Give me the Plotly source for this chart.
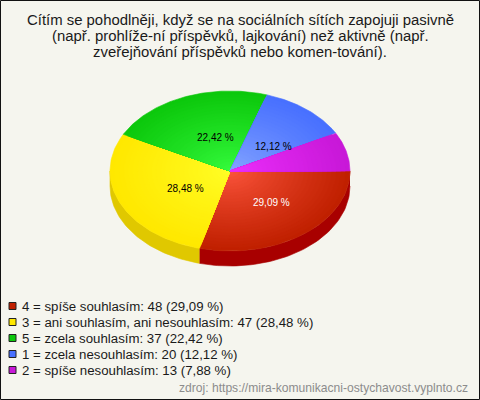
import numpy as np
import plotly.graph_objects as go

title_lines = ["Cítím se pohodlněji, když se na sociálních sítích zapojuji pasivně",
               "(např. prohlíže-ní příspěvků, lajkování) než aktivně (např.",
               "zveřejňování příspěvků nebo komen-tování)."]
labels = ["4 = spíše souhlasím", "3 = ani souhlasím, ani nesouhlasím", "5 = zcela souhlasím",
          "1 = zcela nesouhlasím", "2 = spíše nesouhlasím"]
values = [48, 47, 37, 20, 13]
pct_labels = ["29,09 %", "28,48 %", "22,42 %", "12,12 %", "7,88 %"]
show_label = [True, True, True, True, False]
label_colors = ["#ffffff", "#000000", "#000000", "#000000", "#000000"]
edge_colors = [(192, 32, 0), (255, 232, 0), (12, 200, 12), (72, 112, 255), (200, 24, 216)]
center_colors = [(255, 88, 64), (255, 255, 40), (56, 255, 64), (136, 168, 255), (240, 48, 255)]
side_colors = ["#a80000", "#e0c800", "#0a9a0a", "#3858c8", "#a010a8"]
source = "zdroj: https://mira-komunikacni-ostychavost.vyplnto.cz"
BG = "#f5f5ee"
FONT = "Liberation Sans, Arial, sans-serif"

CX, CY, RX, RY, DEPTH = 230, 171, 120, 80, 15
LEG_Y0, LEG_DY = 306, 16
LABEL_OFFSETS = [(41, 31), (-45, 17), (-15, -34), (43, -25), (0, 0)]

fracs = np.array(values) / sum(values)
edges = np.concatenate([[0], np.cumsum(fracs)]) * 2 * np.pi
fig = go.Figure()

def add_poly(x, y, color):
    fig.add_trace(go.Scatter(x=x, y=y, mode="lines", fill="toself", fillcolor=color,
                             line=dict(width=0.6, color=color), hoverinfo="skip", showlegend=False))

# side wall
for i in range(len(values)):
    a, b = edges[i], min(edges[i + 1], np.pi)
    if a >= np.pi:
        continue
    t = np.linspace(a, b, 60)
    x = CX + RX * np.cos(t)
    y = CY + RY * np.sin(t)
    add_poly(np.r_[x, x[::-1]], np.r_[y, (y + DEPTH)[::-1]], side_colors[i])

# top with radial shading, drawn as nested sectors
N = 26
for i in range(len(values)):
    t = np.linspace(edges[i], edges[i + 1], 90)
    for k in range(N):
        s = 1 - k / N
        m = s ** 0.8
        c = [int(round(center_colors[i][j] + (edge_colors[i][j] - center_colors[i][j]) * m)) for j in range(3)]
        col = f"rgb({c[0]},{c[1]},{c[2]})"
        add_poly(np.r_[CX, CX + s * RX * np.cos(t), CX], np.r_[CY, CY + s * RY * np.sin(t), CY], col)

# slice labels
for i in range(len(values)):
    if show_label[i]:
        fig.add_annotation(x=CX + LABEL_OFFSETS[i][0], y=CY + LABEL_OFFSETS[i][1],
                           text=pct_labels[i], showarrow=False,
                           font=dict(family=FONT, size=10, color=label_colors[i]))

# title
for n, line in enumerate(title_lines):
    fig.add_annotation(x=240, y=20 + n * 16, text=line, showarrow=False,
                       font=dict(family=FONT, size=14.9, color="#1a1a1a"))

# legend
for i in range(len(values)):
    y = LEG_Y0 + i * LEG_DY
    fig.add_trace(go.Scatter(x=[12.5], y=[y], mode="markers", hoverinfo="skip", showlegend=False,
                             marker=dict(symbol="square", size=7,
                                         color="rgb(%d,%d,%d)" % edge_colors[i],
                                         line=dict(width=1, color="#222222"))))
    fig.add_annotation(x=20, y=y, xanchor="left", showarrow=False,
                       text=f"{labels[i]}: {values[i]} ({pct_labels[i]})",
                       font=dict(family=FONT, size=13.25, color="#1a1a1a"))

fig.add_annotation(x=470, y=388, xanchor="right", showarrow=False, text=source,
                   font=dict(family=FONT, size=12.1, color="#8c8c8c"))

fig.update_layout(width=480, height=400, margin=dict(l=0, r=0, t=0, b=0),
                  paper_bgcolor=BG, plot_bgcolor=BG, showlegend=False,
                  xaxis=dict(range=[0, 480], visible=False, fixedrange=True),
                  yaxis=dict(range=[400, 0], visible=False, fixedrange=True),
                  shapes=[dict(type="rect", xref="x", yref="y", x0=0.5, y0=0.5, x1=479.5, y1=399.5,
                               line=dict(color="#111111", width=1))])
fig.write_html("out.html", config=dict(displayModeBar=False),
               post_script="document.body.style.margin='0';document.documentElement.style.overflow='hidden';")
